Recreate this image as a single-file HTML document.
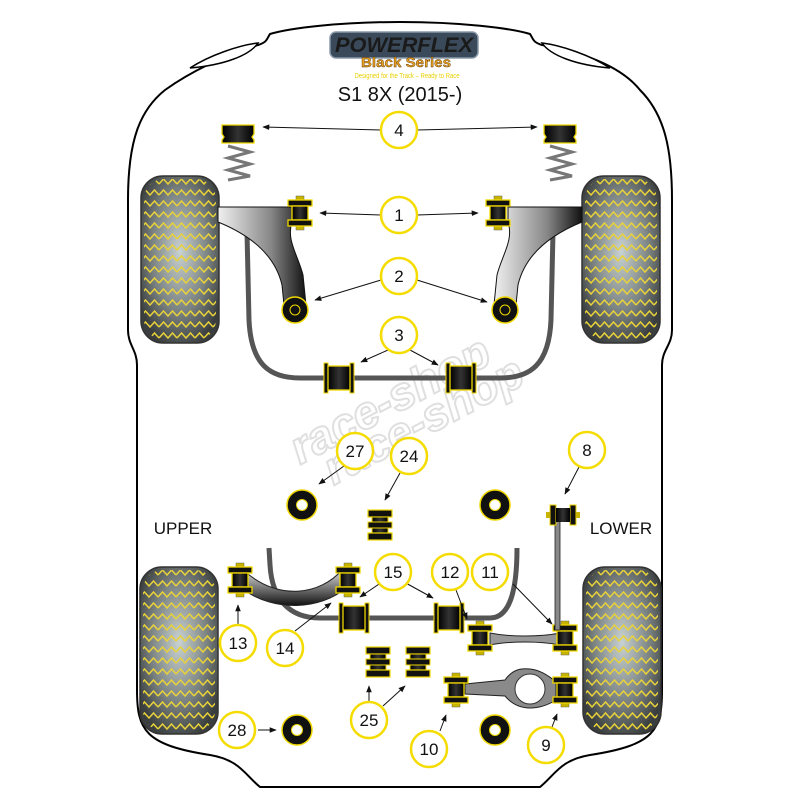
<!DOCTYPE html>
<html><head><meta charset="utf-8"><style>
html,body{margin:0;padding:0;background:#fff;}
svg{display:block;}
text{font-family:"Liberation Sans",sans-serif;}
</style></head><body>
<svg width="800" height="800" viewBox="0 0 800 800" xmlns="http://www.w3.org/2000/svg">
<defs>
<radialGradient id="tg" cx="0.5" cy="0.45" r="0.6">
<stop offset="0" stop-color="#c9d2d2"/><stop offset="0.6" stop-color="#7b8282"/><stop offset="1" stop-color="#3a3e3e"/>
</radialGradient>
<pattern id="zz" width="18" height="11" patternUnits="userSpaceOnUse">
<path d="M0 8 L4.5 3 L9 8 L13.5 3 L18 8" fill="none" stroke="#e8d23a" stroke-width="1.5"/>
</pattern>
<linearGradient id="bk" x1="0" x2="1"><stop offset="0" stop-color="#000"/><stop offset="0.5" stop-color="#333"/><stop offset="1" stop-color="#000"/></linearGradient>
<linearGradient id="arm" x1="0" x2="1"><stop offset="0" stop-color="#f0f0f0"/><stop offset="0.6" stop-color="#888"/><stop offset="1" stop-color="#111"/></linearGradient>
<linearGradient id="armv" x1="0" y1="0" x2="0" y2="1"><stop offset="0" stop-color="#ddd"/><stop offset="1" stop-color="#111"/></linearGradient>
<marker id="ah" viewBox="0 0 10 10" refX="9" refY="5" markerWidth="7" markerHeight="7" orient="auto-start-reverse"><path d="M0 1 L10 5 L0 9 z" fill="#111"/></marker>
<g id="tire">
<rect x="0" y="0" width="78" height="167" rx="22" fill="url(#tg)" stroke="#333" stroke-width="1.5"/>
<rect x="3" y="3" width="72" height="161" rx="20" fill="url(#zz)"/>
</g>
<g id="vb">
<rect x="-4" y="-17" width="8" height="4" fill="#c8b400" stroke="#665" stroke-width="0.5"/>
<rect x="-4" y="13" width="8" height="4" fill="#c8b400" stroke="#665" stroke-width="0.5"/>
<rect x="-12" y="-13" width="24" height="6" fill="#111" stroke="#f0d800" stroke-width="1.3"/>
<rect x="-8" y="-7" width="16" height="14" fill="url(#bk)" stroke="#f0d800" stroke-width="1.3"/>
<rect x="-12" y="7" width="24" height="6" fill="#111" stroke="#f0d800" stroke-width="1.3"/>
</g>
<g id="hb">
<rect x="-15" y="-15" width="4" height="30" fill="#111" stroke="#f0d800" stroke-width="1"/>
<rect x="11" y="-15" width="4" height="30" fill="#111" stroke="#f0d800" stroke-width="1"/>
<rect x="-11" y="-12" width="22" height="24" fill="url(#bk)" stroke="#f0d800" stroke-width="1.3"/>
</g>
<g id="sb">
<rect x="-12" y="-15" width="24" height="7" fill="#111" stroke="#f0d800" stroke-width="1.2"/>
<rect x="-8" y="-8" width="16" height="16" fill="url(#bk)" stroke="#f0d800" stroke-width="1"/>
<rect x="-12" y="-3" width="24" height="6" fill="#111" stroke="#f0d800" stroke-width="1"/>
<rect x="-12" y="8" width="24" height="7" fill="#111" stroke="#f0d800" stroke-width="1.2"/>
</g>
<g id="eye">
<circle r="15" fill="#111" stroke="#f0d800" stroke-width="1.5"/>
<circle r="5.5" fill="#fff" stroke="#f0d800" stroke-width="1"/>
</g>
</defs>

<path d="M400 22 C460 22 510 28 530 34 C533 38 532 42 542 45 C580 52 620 65 640 90 C665 115 672 150 672 200 L672 330 C672 345 662 350 662 365 L662 690 C662 730 655 745 590 755 C560 760 555 775 540 787 L260 787 C245 775 240 760 210 755 C145 745 137 730 137 690 L137 365 C137 350 128 345 128 330 L128 200 C128 140 140 110 165 90 C190 72 225 55 258 45 C268 42 267 38 270 34 C290 28 340 22 400 22 Z" fill="#fff" stroke="#000" stroke-width="2"/>
<path d="M190 68 C210 55 240 45 258 43 C250 55 225 65 190 68 Z" fill="#fff" stroke="#000" stroke-width="1.5"/>
<path d="M542 43 C560 45 590 55 610 68 C575 65 550 55 542 43 Z" fill="#fff" stroke="#000" stroke-width="1.5"/>

<g opacity="0.2" transform="translate(300,465) rotate(-28)">
<text x="0" y="0" font-size="46" font-style="italic" font-weight="bold" fill="none" stroke="#666" stroke-width="2">race-shop</text>
<text x="20" y="34" font-size="46" font-style="italic" font-weight="bold" fill="none" stroke="#666" stroke-width="2">race-shop</text>
</g>

<rect x="330" y="32" width="148" height="26" rx="6" fill="#3a4a5a" stroke="#8898a8" stroke-width="1.5"/>
<text x="404" y="52" font-size="21" font-weight="bold" font-style="italic" fill="#1a1a1a" text-anchor="middle" textLength="138" lengthAdjust="spacingAndGlyphs">POWERFLEX</text>
<text x="406" y="67" font-size="14" font-weight="bold" fill="#e8a020" stroke="#553300" stroke-width="0.4" text-anchor="middle" textLength="90" lengthAdjust="spacingAndGlyphs">Black Series</text>
<text x="407" y="78" font-size="7" fill="#e8d000" text-anchor="middle" textLength="105" lengthAdjust="spacingAndGlyphs">Designed for the Track – Ready to Race</text>
<text x="400" y="101" font-size="20" fill="#111" text-anchor="middle">S1 8X (2015-)</text>

<use href="#tire" x="141" y="176"/>
<use href="#tire" x="582" y="176"/>
<use href="#tire" x="140" y="567"/>
<use href="#tire" x="583" y="567"/>

<g id="bs">
<g fill="none" stroke="#777" stroke-width="3">
<path d="M228 146 L250 152 L228 158 L250 164 L228 170 L250 176 L228 180"/>
</g>
<path d="M222 125 L254 125 L254 134 L252 137 L254 140 L254 143 L222 143 L222 140 L224 137 L222 134 Z" fill="url(#bk)" stroke="#f0d800" stroke-width="1.3"/>
</g>
<g transform="translate(322,0)">
<g fill="none" stroke="#777" stroke-width="3">
<path d="M228 146 L250 152 L228 158 L250 164 L228 170 L250 176 L228 180"/>
</g>
<path d="M222 125 L254 125 L254 134 L252 137 L254 140 L254 143 L222 143 L222 140 L224 137 L222 134 Z" fill="url(#bk)" stroke="#f0d800" stroke-width="1.3"/>
</g>

<path d="M247 232 L249 320 C251 365 270 378 300 378 L500 378 C530 378 549 365 551 320 L553 232" fill="none" stroke="#555" stroke-width="5"/>

<path d="M218 207 L292 207 L292 222 C286 240 298 255 303 275 L306 305 L284 305 L282 285 C275 255 250 235 218 222 Z" fill="url(#arm)" stroke="#111" stroke-width="1"/>
<path d="M582 207 L508 207 L508 222 C514 240 502 255 497 275 L494 305 L516 305 L518 285 C525 255 550 235 582 222 Z" fill="url(#arm)" stroke="#111" stroke-width="1"/>
<use href="#vb" x="300" y="213"/>
<use href="#vb" x="498" y="213"/>
<g transform="translate(295,310)"><circle r="13" fill="#111" stroke="#f0d800" stroke-width="1.5"/><circle r="5" fill="none" stroke="#f0d800" stroke-width="1"/></g>
<g transform="translate(505,310)"><circle r="13" fill="#111" stroke="#f0d800" stroke-width="1.5"/><circle r="5" fill="none" stroke="#f0d800" stroke-width="1"/></g>
<use href="#hb" x="339" y="378"/>
<use href="#hb" x="461" y="378"/>

<use href="#eye" x="302" y="505"/>
<use href="#eye" x="495" y="505"/>
<use href="#sb" x="380" y="525"/>
<use href="#eye" x="297" y="730"/>
<use href="#eye" x="495" y="730"/>
<use href="#sb" x="378" y="662"/>
<use href="#sb" x="418" y="662"/>

<path d="M269 548 L270 565 C272 600 290 618 320 618 L490 618 C510 618 517 590 517 548" fill="none" stroke="#555" stroke-width="5"/>
<use href="#hb" x="354" y="618"/>
<use href="#hb" x="449" y="618"/>

<path d="M248 574 C280 600 320 595 342 570 L346 588 C320 610 275 612 244 590 Z" fill="url(#armv)" stroke="#222" stroke-width="1"/>
<use href="#vb" x="240" y="580"/>
<use href="#vb" x="348" y="580"/>

<path d="M490 633 C510 637 540 637 560 633 L560 645 C540 641 510 641 490 645 Z" fill="#999" stroke="#222" stroke-width="1"/>
<use href="#vb" x="480" y="638"/>
<use href="#vb" x="565" y="638"/>

<rect x="555" y="520" width="5" height="110" fill="#888" stroke="#222" stroke-width="0.8"/>
<g transform="translate(563,515)">
<rect x="-12" y="-4" width="24" height="8" fill="#222"/>
<rect x="-13" y="-10" width="6" height="20" fill="#111" stroke="#f0d800" stroke-width="1"/>
<rect x="7" y="-10" width="6" height="20" fill="#111" stroke="#f0d800" stroke-width="1"/>
<rect x="-7" y="-7" width="14" height="14" fill="url(#bk)"/>
<rect x="-17" y="-3" width="4" height="6" fill="#c8b400"/>
<rect x="13" y="-3" width="4" height="6" fill="#c8b400"/>
</g>

<path d="M465 684 L505 680 C512 670 520 668 530 669 C540 670 548 675 556 682 L556 700 C548 705 540 708 530 708 C518 708 510 702 505 696 L465 694 Z" fill="#8a8a8a" stroke="#222" stroke-width="1"/>
<ellipse cx="530" cy="689" rx="15" ry="15" fill="#fff" stroke="#333" stroke-width="1"/>
<use href="#vb" x="456" y="690"/>
<use href="#vb" x="565" y="690"/>

<text x="183" y="534" font-size="17" fill="#111" text-anchor="middle">UPPER</text>
<text x="621" y="534" font-size="17" fill="#111" text-anchor="middle">LOWER</text>

<g stroke="#111" stroke-width="1" fill="none" marker-end="url(#ah)">
<line x1="381" y1="130" x2="263" y2="127"/>
<line x1="417" y1="130" x2="537" y2="127"/>
<line x1="381" y1="215" x2="320" y2="213"/>
<line x1="417" y1="215" x2="478" y2="213"/>
<line x1="381" y1="280" x2="315" y2="300"/>
<line x1="417" y1="280" x2="487" y2="302"/>
<line x1="388" y1="350" x2="361" y2="362"/>
<line x1="410" y1="350" x2="438" y2="365"/>
<line x1="344" y1="466" x2="319" y2="484"/>
<line x1="400" y1="473" x2="385" y2="500"/>
<line x1="579" y1="467" x2="565" y2="494"/>
<line x1="382" y1="582" x2="360" y2="597"/>
<line x1="404" y1="582" x2="433" y2="598"/>
<line x1="456" y1="590" x2="467" y2="619"/>
<line x1="513" y1="584" x2="552" y2="624"/>
<line x1="238" y1="625" x2="238" y2="605"/>
<line x1="295" y1="631" x2="331" y2="603"/>
<line x1="369" y1="702" x2="369" y2="686"/>
<line x1="383" y1="706" x2="405" y2="686"/>
<line x1="440" y1="731" x2="446" y2="715"/>
<line x1="552" y1="727" x2="557" y2="714"/>
<line x1="258" y1="730" x2="276" y2="730"/>
</g>

<g fill="#fff" stroke="#f5dc00" stroke-width="2.5">
<circle cx="399" cy="130" r="18"/>
<circle cx="399" cy="215" r="18"/>
<circle cx="399" cy="276" r="18"/>
<circle cx="399" cy="335" r="18"/>
<circle cx="355" cy="451" r="18"/>
<circle cx="409" cy="456" r="18"/>
<circle cx="587" cy="450" r="18"/>
<circle cx="393" cy="572" r="18"/>
<circle cx="450" cy="572" r="18"/>
<circle cx="490" cy="572" r="18"/>
<circle cx="238" cy="643" r="18"/>
<circle cx="285" cy="648" r="18"/>
<circle cx="369" cy="720" r="18"/>
<circle cx="429" cy="749" r="18"/>
<circle cx="546" cy="745" r="18"/>
<circle cx="237" cy="730" r="18"/>
</g>
<g font-size="17" fill="#111" text-anchor="middle">
<text x="399" y="136">4</text>
<text x="399" y="221">1</text>
<text x="399" y="282">2</text>
<text x="399" y="341">3</text>
<text x="355" y="457">27</text>
<text x="409" y="462">24</text>
<text x="587" y="456">8</text>
<text x="393" y="578">15</text>
<text x="450" y="578">12</text>
<text x="490" y="578">11</text>
<text x="238" y="649">13</text>
<text x="285" y="654">14</text>
<text x="369" y="726">25</text>
<text x="429" y="755">10</text>
<text x="546" y="751">9</text>
<text x="237" y="736">28</text>
</g>
</svg>
</body></html>
